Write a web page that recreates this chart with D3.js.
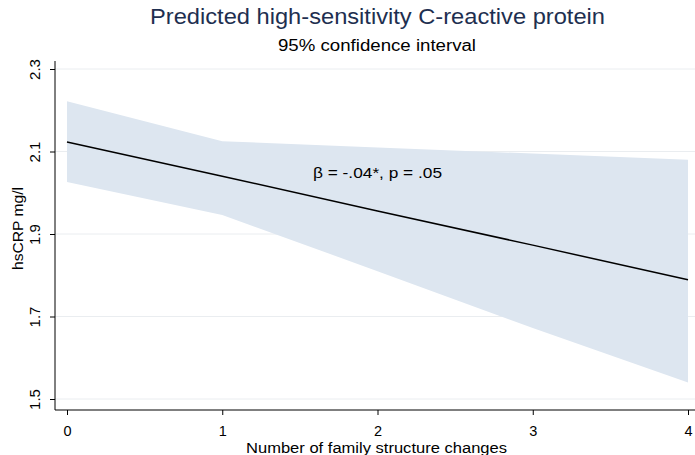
<!DOCTYPE html>
<html lang="en">
<head>
  <meta charset="UTF-8">
  <title>Predicted hsCRP</title>
  <script src="https://cdnjs.cloudflare.com/ajax/libs/d3/7.8.5/d3.min.js"></script>
  <style>
    * { margin: 0; padding: 0; }
    html, body { background: #fff; }
    svg { display: block; font-family: "Liberation Sans", Arial, sans-serif; }
  </style>
</head>
<body>
<div id="chart"></div>
<script>
  // data
  const changes = [0, 1, 2, 3, 4]
  const predicted = [2.123, 2.040, 1.956, 1.873, 1.789]
  const ciUpper = [2.222, 2.125, 2.110, 2.095, 2.080]
  const ciLower = [2.026, 1.946, 1.810, 1.672, 1.540]
  const yTicks = [1.5, 1.7, 1.9, 2.1, 2.3]
  const xTicks = [0, 1, 2, 3, 4]

  const W = 695, H = 455
  const svg = d3.select('#chart').append('svg')
    .attr('width', W).attr('height', H)

  const x = d3.scaleLinear().domain([0, 4]).range([67, 688])
  const y = d3.scaleLinear().domain([1.5, 2.3]).range([399, 69])
  const axisY = 410, axisX = 55

  // gridlines
  svg.append('g').selectAll('line').data(yTicks).join('line')
    .attr('x1', axisX).attr('x2', W)
    .attr('y1', d => y(d)).attr('y2', d => y(d))
    .attr('stroke', '#eaedf0').attr('stroke-width', 1)

  // confidence band
  const band = changes.map((c, i) => ({x: c, lo: ciLower[i], hi: ciUpper[i]}))
  svg.append('path').datum(band)
    .attr('fill', '#dde6f0')
    .attr('d', d3.area().x(d => x(d.x)).y0(d => y(d.lo)).y1(d => y(d.hi)))

  // prediction line
  svg.append('path').datum(changes.map((c, i) => [c, predicted[i]]))
    .attr('fill', 'none').attr('stroke', '#000').attr('stroke-width', 1.5)
    .attr('d', d3.line().x(d => x(d[0])).y(d => y(d[1])))

  // axes
  const gx = svg.append('g').attr('transform', `translate(0,${axisY})`)
    .call(d3.axisBottom(x).tickValues(xTicks).tickSize(5).tickPadding(0).tickFormat(d3.format('d')))
  gx.select('.domain').attr('d', `M${axisX},0H${W}`).attr('stroke', '#000')
  gx.selectAll('.tick text').attr('y', 26).attr('dy', 0)
    .attr('font-size', 14.5).attr('fill', '#000')
    .attr('font-family', '"Liberation Sans", Arial, sans-serif')

  const gy = svg.append('g').attr('transform', `translate(${axisX},0)`)
    .call(d3.axisLeft(y).tickValues(yTicks).tickSize(5).tickPadding(0).tickFormat(d3.format('.1f')))
  gy.select('.domain').attr('d', `M0,${y(2.3) - 8}V${axisY}`).attr('stroke', '#000')
  gy.selectAll('.tick text')
    .attr('x', 0).attr('dy', 0)
    .attr('transform', 'translate(-15,0) rotate(-90)')
    .attr('text-anchor', 'middle')
    .attr('font-size', 15).attr('fill', '#000')
    .attr('font-family', '"Liberation Sans", Arial, sans-serif')

  // titles
  const label = (txt, xx, yy, size, len, color) => svg.append('text')
    .attr('x', xx).attr('y', yy).attr('text-anchor', 'middle')
    .attr('font-size', size).attr('fill', color || '#000')
    .attr('textLength', len).attr('lengthAdjust', 'spacingAndGlyphs')
    .text(txt)

  label('Predicted high-sensitivity C-reactive protein', 377.5, 24, 22, 455, '#1e2f50')
  label('95% confidence interval', 377, 51, 16, 198)
  label('Number of family structure changes', 376.5, 452.5, 14, 261)
  label('β = -.04*, p = .05', 377.5, 178, 15, 129)

  svg.append('text').attr('transform', 'translate(23,228.5) rotate(-90)')
    .attr('text-anchor', 'middle')
    .attr('font-size', 15).attr('fill', '#000')
    .attr('textLength', 83).attr('lengthAdjust', 'spacingAndGlyphs')
    .text('hsCRP mg/l')
</script>
</body>
</html>
